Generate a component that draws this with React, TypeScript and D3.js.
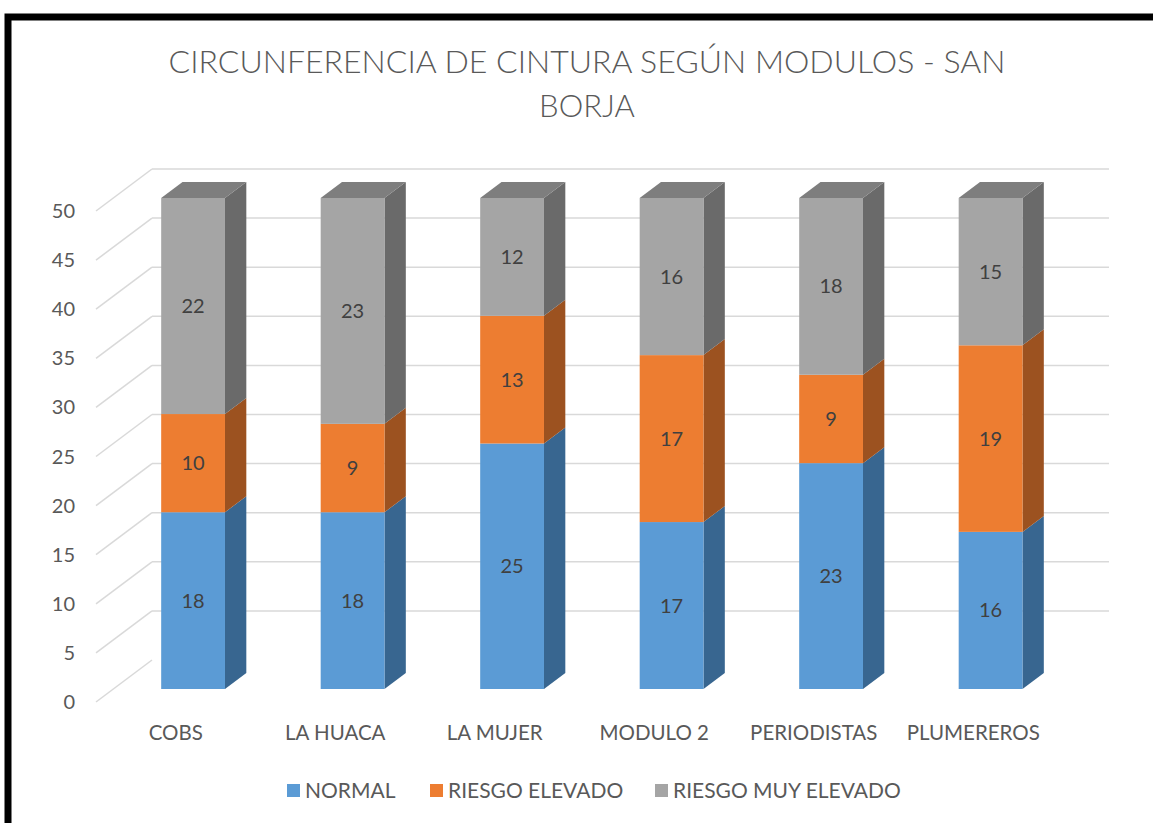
import React from "react"
import * as d3 from "d3"

const W = 1153
const H = 823

const categories = ["COBS", "LA HUACA", "LA MUJER", "MODULO 2", "PERIODISTAS", "PLUMEREROS"]
const normal = [18, 18, 25, 17, 23, 16]
const riesgoElevado = [10, 9, 13, 17, 9, 19]
const riesgoMuyElevado = [22, 23, 12, 16, 18, 15]
const seriesNames = ["NORMAL", "RIESGO ELEVADO", "RIESGO MUY ELEVADO"]
const yTicks = [0, 5, 10, 15, 20, 25, 30, 35, 40, 45, 50]

const front = ["#5B9BD5", "#ED7D31", "#A5A5A5"]
const side = ["#386690", "#9C5220", "#6A6A6A"]
const TOP = "#7E7E7E"
const TXT = "#595959"
const FONT = "Lato, 'Open Sans', sans-serif"

// profundidad del piso (proyeccion oblicua)
const DX = 56
const DY = 42
const f1 = 13 / 42 // cara frontal de la barra
const f2 = 29 / 42 // cara trasera

export default function App() {
  const x = d3.scaleBand<string>().domain(categories).range([96, 1053]).paddingInner(0.6).paddingOuter(0.3)
  const y = d3.scaleLinear().domain([0, 50]).range([702, 211])

  const rows = categories.map((c, i) => ({ cat: c, a: normal[i], b: riesgoElevado[i], c2: riesgoMuyElevado[i] }))
  const stack = d3.stack<any>().keys(["a", "b", "c2"])(rows)

  const bw = x.bandwidth()
  const sdx = DX * (f2 - f1)
  const sdy = DY * (f2 - f1)

  return (
    <svg width={W} height={H} style={{ position: "absolute", left: 0, top: 0, background: "#fff" }} fontFamily={FONT}>
      <rect x={8} y={17} width={1300} height={1000} fill="#fff" stroke="#000" strokeWidth={7} />

      <text x={587} y={73} textAnchor="middle" fontSize={31} fontWeight={300} fill={TXT} textLength={837} lengthAdjust="spacingAndGlyphs">
        CIRCUNFERENCIA DE CINTURA SEGÚN MODULOS - SAN
      </text>
      <text x={587} y={117} textAnchor="middle" fontSize={31} fontWeight={300} fill={TXT}>
        BORJA
      </text>

      {/* rejilla: pared del fondo + diagonales del piso */}
      {yTicks.map((t) => (
        <g key={t}>
          <line x1={96} y1={y(t)} x2={96 + DX} y2={y(t) - DY} stroke="#D9D9D9" strokeWidth={1.5} />
          {t > 0 && (
            <line x1={96 + DX} y1={y(t) - DY} x2={1053 + DX} y2={y(t) - DY} stroke="#D9D9D9" strokeWidth={1.5} />
          )}
          <text x={75} y={y(t)} dy="0.35em" textAnchor="end" fontSize={20} fill={TXT}>
            {t}
          </text>
        </g>
      ))}

      {/* barras 3D apiladas */}
      {categories.map((c, i) => {
        const x0 = (x(c) as number) + DX * f1
        const x1 = x0 + bw
        const yy = (v: number) => y(v) - DY * f1
        return (
          <g key={c}>
            {stack.map((s, k) => {
              const v0 = s[i][0]
              const v1 = s[i][1]
              const sidePts = [
                [x1, yy(v1)],
                [x1 + sdx, yy(v1) - sdy],
                [x1 + sdx, yy(v0) - sdy],
                [x1, yy(v0)],
              ]
              return (
                <g key={k}>
                  <polygon points={sidePts.map((p) => p.join(",")).join(" ")} fill={side[k]} />
                  <rect x={x0} y={yy(v1)} width={bw} height={yy(v0) - yy(v1)} fill={front[k]} />
                  <text x={x0 + bw / 2} y={(yy(v0) + yy(v1)) / 2} dy="0.35em" textAnchor="middle" fontSize={20} fill="#404040">
                    {v1 - v0}
                  </text>
                </g>
              )
            })}
            {(() => {
              const vt = stack[stack.length - 1][i][1]
              const pts = [
                [x0, yy(vt)],
                [x0 + sdx, yy(vt) - sdy],
                [x1 + sdx, yy(vt) - sdy],
                [x1, yy(vt)],
              ]
              return <polygon points={pts.map((p) => p.join(",")).join(" ")} fill={TOP} />
            })()}
          </g>
        )
      })}

      {categories.map((c) => (
        <text key={c} x={(x(c) as number) + bw / 2} y={733} dy="0.35em" textAnchor="middle" fontSize={20.5} fill={TXT}>
          {c}
        </text>
      ))}

      {/* leyenda */}
      {seriesNames.map((n, k) => {
        const lx = [287, 430, 655][k]
        return (
          <g key={n}>
            <rect x={lx} y={784} width={13} height={13} fill={front[k]} />
            <text x={lx + 18} y={791} dy="0.35em" fontSize={21} fill={TXT}>
              {n}
            </text>
          </g>
        )
      })}
    </svg>
  )
}
